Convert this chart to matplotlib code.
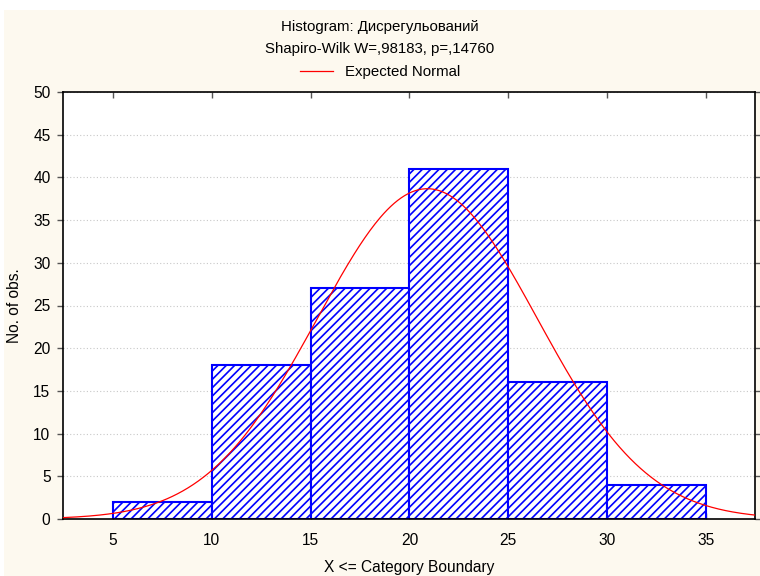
import numpy as np
import matplotlib.pyplot as plt
from matplotlib.patches import Rectangle

plt.rcParams['font.family'] = ['Liberation Sans', 'DejaVu Sans']
plt.rcParams['hatch.color'] = '#0000ff'
plt.rcParams['hatch.linewidth'] = 1.2

# bin edges and counts
bin_left = [5, 10, 15, 20, 25, 30]
counts = [2, 18, 27, 41, 16, 4]
bin_width = 5
# fitted normal parameters
mean_val = 20.9
sd_val = 5.57
n_obs = sum(counts)

x_ticks = [5, 10, 15, 20, 25, 30, 35]
y_ticks = [0, 5, 10, 15, 20, 25, 30, 35, 40, 45, 50]
x_min, x_max = 2.47, 37.48

fig = plt.figure(figsize=(7.6, 5.76), dpi=100, facecolor='white')
# cream background with thin white margin
fig.patches.append(Rectangle((4 / 760, 0), 756 / 760, 566 / 576, transform=fig.transFigure,
                             facecolor='#fdf9ef', edgecolor='none', zorder=-1))

ax = fig.add_axes([63 / 760, 1 - 519 / 576, 692 / 760, 427 / 576])
ax.set_facecolor('white')

ax.bar(bin_left, counts, width=bin_width, align='edge', facecolor='white',
       edgecolor='#0000ff', linewidth=1.5, hatch='////', zorder=2)

xs = np.linspace(x_min, x_max, 400)
ys = n_obs * bin_width / (sd_val * np.sqrt(2 * np.pi)) * np.exp(-0.5 * ((xs - mean_val) / sd_val) ** 2)
ax.plot(xs, ys, color='#ff0000', linewidth=0.9, zorder=3, label='Expected Normal')

ax.set_xlim(x_min, x_max)
ax.set_ylim(0, 50)
ax.set_xticks(x_ticks)
ax.set_yticks(y_ticks)
ax.yaxis.grid(True, linestyle=(0, (1, 2)), color='#c8c8c8', linewidth=0.8, zorder=0)
ax.set_axisbelow(True)

ax.tick_params(axis='both', labelsize=11.2, colors='black', length=4, width=1)
ax.tick_params(axis='y', direction='out', right=True, pad=5)
ax.tick_params(axis='x', direction='in', top=True, pad=10)
for side in ['top', 'right', 'bottom', 'left']:
    ax.spines[side].set_linewidth(1.2)
ax.tick_params(which='both', color='#555555')

ax.set_xlabel('X <= Category Boundary', fontsize=11.2, labelpad=9)
ax.set_ylabel('No. of obs.', fontsize=11.2, labelpad=8)

fig.text(0.5, 1 - 27 / 576, 'Histogram: Дисрегульований', ha='center', va='center', fontsize=10.8)
fig.text(0.5, 1 - 49 / 576, 'Shapiro-Wilk W=,98183, p=,14760', ha='center', va='center', fontsize=10.8)
fig.legend(loc='center', bbox_to_anchor=(0.5, 1 - 72 / 576), frameon=False, fontsize=10.8,
           handlelength=2.2, handletextpad=0.8)

fig.savefig('out.png', dpi=100, facecolor=fig.get_facecolor())
